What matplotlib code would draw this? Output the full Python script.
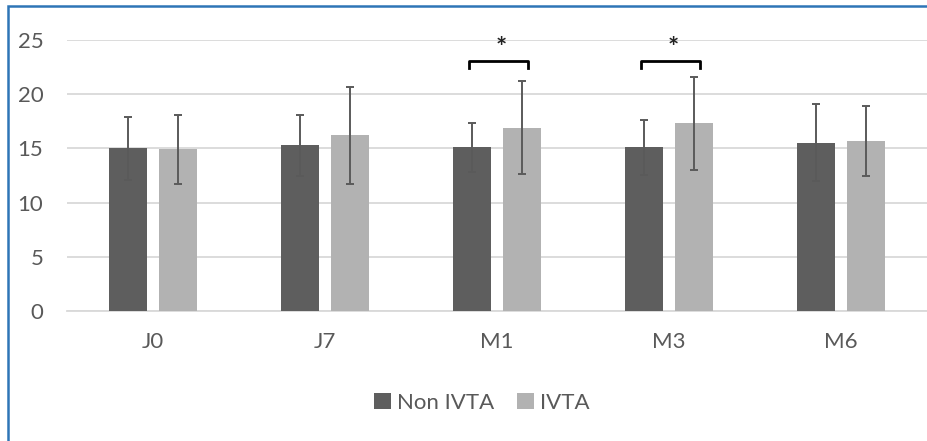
import matplotlib
matplotlib.use("Agg")
import matplotlib.pyplot as plt
from matplotlib.patches import Rectangle, Patch
import numpy as np

plt.rcParams['font.family'] = ['Lato', 'DejaVu Sans']

categories = ["J0", "J7", "M1", "M3", "M6"]
non_ivta = [15.0, 15.3, 15.1, 15.1, 15.5]
non_ivta_err = [2.9, 2.8, 2.25, 2.55, 3.55]
ivta = [14.9, 16.2, 16.9, 17.3, 15.7]
ivta_err = [3.15, 4.5, 4.3, 4.25, 3.2]
series_names = ["Non IVTA", "IVTA"]
significant = ["M1", "M3"]
yticks = [0, 5, 10, 15, 20, 25]

c_dark = "#5e5e5e"
c_light = "#b2b2b2"
txt = "#595959"

fig = plt.figure(figsize=(9.27, 4.41), dpi=100)
ax = fig.add_axes([67/927, (441-311)/441, 1 - 67/927, (311-40)/441])

x = np.arange(len(categories))
w = 0.221
off = 0.1425
ax.bar(x - off, non_ivta, w, color=c_dark, zorder=3)
ax.bar(x + off, ivta, w, color=c_light, zorder=3)
ekw = dict(fmt='none', ecolor="#5a5a5a", elinewidth=1.4, capsize=3, capthick=1.4, zorder=4)
ax.errorbar(x - off, non_ivta, yerr=non_ivta_err, **ekw)
ax.errorbar(x + off, ivta, yerr=ivta_err, **ekw)

for cat in significant:
    i = categories.index(cat)
    x0, x1 = i - 0.163, i + 0.178
    ax.plot([x0, x0, x1, x1], [22.4, 23.05, 23.05, 22.4], color="black", lw=2, zorder=5,
            solid_joinstyle='round', clip_on=False)
    ax.text(i + 0.025, 24.3, "*", ha='center', va='center', fontsize=19,
            fontweight='bold', color="#222222")

ax.set_xlim(-0.5, 4.5)
ax.set_ylim(0, 25)
ax.set_yticks(yticks)
ax.set_xticks(x)
ax.set_xticklabels(categories)
ax.grid(axis='y', color="#d9d9d9", lw=1.3, zorder=0)
ax.set_axisbelow(True)
for s in ['top', 'right', 'left']:
    ax.spines[s].set_visible(False)
ax.spines['bottom'].set_color("#d9d9d9")
ax.spines['bottom'].set_linewidth(1.3)
ax.tick_params(axis='y', length=0, pad=17, labelsize=16, labelcolor=txt)
ax.tick_params(axis='x', length=0, pad=15, labelsize=16, labelcolor=txt)

handles = [Patch(facecolor=c_dark, label=series_names[0]),
           Patch(facecolor=c_light, label=series_names[1])]
leg = fig.legend(handles=handles, loc='center', bbox_to_anchor=(482/927, 1 - 403/441),
                 ncol=2, frameon=False, fontsize=16, handlelength=0.75, handleheight=0.75,
                 handletextpad=0.3, columnspacing=1.0)
for t in leg.get_texts():
    t.set_color(txt)

fig.add_artist(Rectangle((8/927, -0.1), 1.2, 1.1 - 6/441, transform=fig.transFigure,
                         fill=False, edgecolor="#2e75b6", lw=1.8))

fig.savefig("out.png", dpi=100)
